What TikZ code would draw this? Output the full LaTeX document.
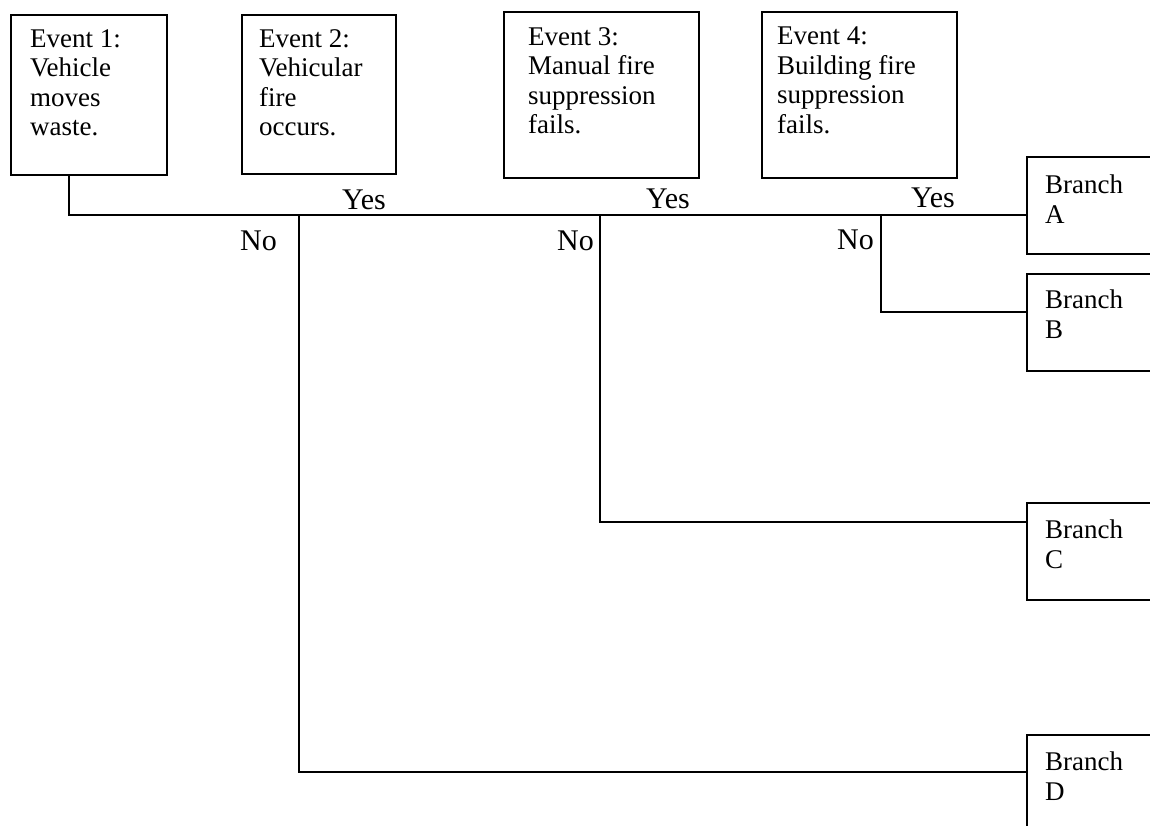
\documentclass[tikz,border=0pt]{standalone}
\usepackage{fontspec}
\setmainfont{Liberation Serif}
\usetikzlibrary{calc}
\begin{document}
\begin{tikzpicture}[x=1pt,y=-1pt,
  box/.style={draw, line width=2.2pt, rectangle, anchor=north west, inner sep=0pt},
  boxtext/.style={anchor=north west, inner sep=0pt, align=left,
                  font=\fontsize{27}{29.5}\selectfont},
  lbl/.style={anchor=base west, inner sep=0pt, font=\fontsize{30}{35}\selectfont},
  wire/.style={draw, line width=2.2pt}]
\useasboundingbox (0,0) rectangle (1150,826);
\clip (0,0) rectangle (1150,826);

% event boxes along the top
\node[box, minimum width=156pt, minimum height=160pt] (ev1) at (10,14) {};
\node[box, minimum width=154pt, minimum height=159pt] (ev2) at (241,14) {};
\node[box, minimum width=195pt, minimum height=166pt] (ev3) at (503,11) {};
\node[box, minimum width=195pt, minimum height=166pt] (ev4) at (761,11) {};

\node[boxtext] (ev1t) at (30,29)  {Event 1:\\Vehicle\\moves\\waste.};
\node[boxtext] (ev2t) at (259,29) {Event 2:\\Vehicular\\fire\\occurs.};
\node[boxtext] (ev3t) at (528,27) {Event 3:\\Manual fire\\suppression\\fails.};
\node[boxtext] (ev4t) at (777,27) {Event 4:\\Building fire\\suppression\\fails.};

% outcome boxes on the right (they run past the edge)
\node[box, minimum width=150pt, minimum height=97pt] (brA) at (1026,156) {};
\node[box, minimum width=150pt, minimum height=97pt] (brB) at (1026,273) {};
\node[box, minimum width=150pt, minimum height=97pt] (brC) at (1026,502) {};
\node[box, minimum width=150pt, minimum height=120pt] (brD) at (1026,734) {};

\node[boxtext] (brAt) at (1045,175) {Branch\\A};
\node[boxtext] (brBt) at (1045,290) {Branch\\B};
\node[boxtext] (brCt) at (1045,520) {Branch\\C};
\node[boxtext] (brDt) at (1045,752) {Branch\\D};

% branching points of the tree
\coordinate (j0) at (69,215);
\coordinate (j1) at (299,215);
\coordinate (j2) at (600,215);
\coordinate (j3) at (881,215);

% entry points on the outcome boxes
\coordinate (inA) at ($(brA.north west)+(0,59)$);
\coordinate (inB) at ($(brB.north west)+(0,39)$);
\coordinate (inC) at ($(brC.north west)+(0,20)$);
\coordinate (inD) at ($(brD.north west)+(0,38)$);

% connectors
\draw[wire] (ev1.south -| j0) -- (j0) -- (inA);
\draw[wire] (j1) |- (inD);
\draw[wire] (j2) |- (inC);
\draw[wire] (j3) |- (inB);

% yes / no labels
\node[lbl] (y1) at (342,210) {Yes};
\node[lbl] (y2) at (646,209) {Yes};
\node[lbl] (y3) at (911,208) {Yes};
\node[lbl] (n1) at (240,251) {No};
\node[lbl] (n2) at (557,251) {No};
\node[lbl] (n3) at (837,250) {No};
\end{tikzpicture}
\end{document}
